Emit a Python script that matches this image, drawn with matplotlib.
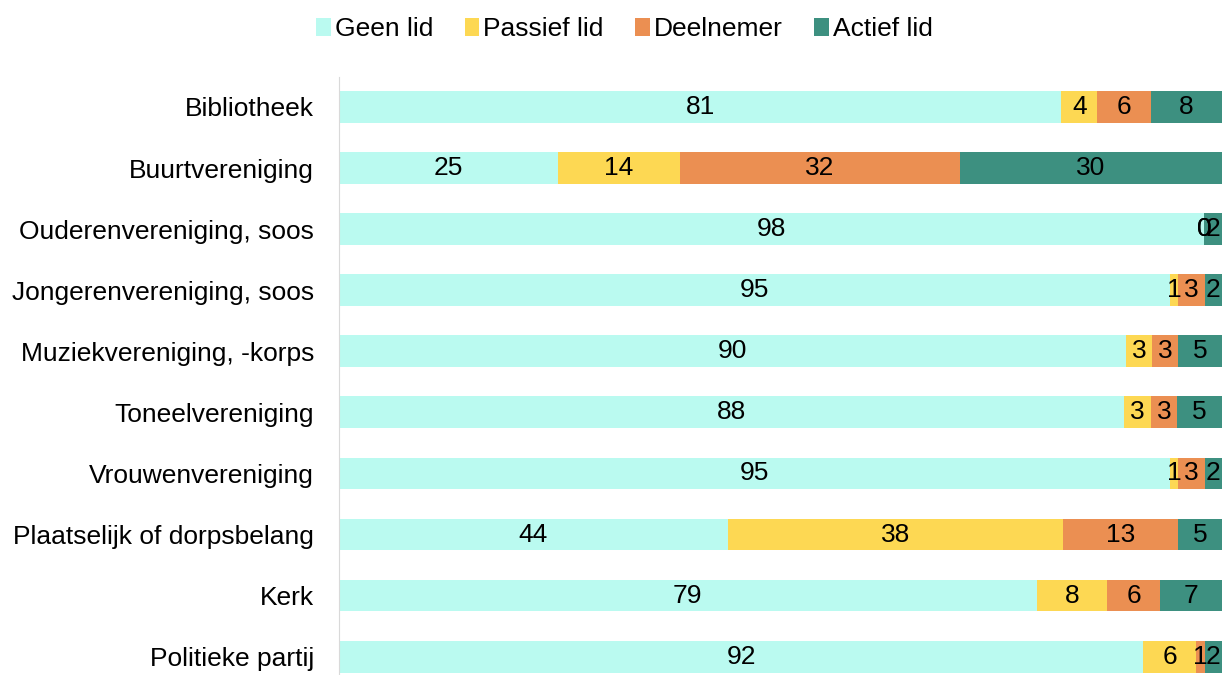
import numpy as np
import matplotlib.pyplot as plt

plt.rcParams['font.family'] = ['Liberation Sans', 'DejaVu Sans']

categories = ['Bibliotheek', 'Buurtvereniging', 'Ouderenvereniging, soos',
              'Jongerenvereniging, soos', 'Muziekvereniging, -korps',
              'Toneelvereniging', 'Vrouwenvereniging',
              'Plaatselijk of dorpsbelang', 'Kerk', 'Politieke partij']
geen_lid = [81, 25, 98, 95, 90, 88, 95, 44, 79, 92]
passief_lid = [4, 14, 0, 1, 3, 3, 1, 38, 8, 6]
deelnemer = [6, 32, 0, 3, 3, 3, 3, 13, 6, 1]
actief_lid = [8, 30, 2, 2, 5, 5, 2, 5, 7, 2]

series = [('Geen lid', geen_lid, '#BAFAF0'),
          ('Passief lid', passief_lid, '#FDD853'),
          ('Deelnemer', deelnemer, '#EB8F52'),
          ('Actief lid', actief_lid, '#3D9080')]

totals = np.sum([s[1] for s in series], axis=0)

fig = plt.figure(figsize=(12.22, 6.75), dpi=100)
ax = fig.add_axes([339 / 1222, 0, 883 / 1222, 598 / 675])

y = np.arange(len(categories))
left = np.zeros(len(categories))
for name, vals, color in series:
    w = np.array(vals) / totals * 100
    ax.barh(y, w, left=left, height=0.52, color=color, label=name)
    for yi, li, wi, v in zip(y, left, w, vals):
        ax.text(li + wi / 2, yi, str(v), ha='center', va='center',
                fontsize=19, color='black')
    left += w

ax.set_xlim(0, 100)
ax.set_ylim(9.3, -0.49)
ax.set_yticks(y)
ax.set_yticklabels(categories, fontsize=19)
ax.tick_params(axis='y', length=0, pad=18)
ax.set_xticks([])
for sp in ['top', 'right', 'bottom']:
    ax.spines[sp].set_visible(False)
ax.spines['left'].set_color('#D9D9D9')

fig.legend(loc='upper center', bbox_to_anchor=(0.511, 1.01), ncol=4,
           frameon=False, fontsize=19, handlelength=0.55, handleheight=0.65,
           handletextpad=0.15, columnspacing=1.2)

fig.savefig('out.png', dpi=100)
